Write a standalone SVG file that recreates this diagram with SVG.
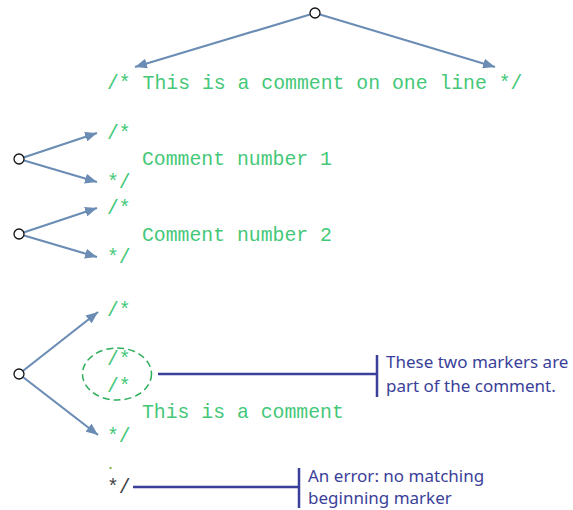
<svg xmlns="http://www.w3.org/2000/svg" width="573" height="510" viewBox="0 0 573 510">
<defs>
<marker id="ah" viewBox="0 0 12 10" refX="12" refY="5" markerWidth="12" markerHeight="10" markerUnits="userSpaceOnUse" orient="auto">
<path d="M0,0 L12,5 L0,10 z" fill="#6b8cb4"/>
</marker>
<style>
.code{font-family:"Liberation Mono","Courier New",monospace;font-size:19.8px;fill:#44c878}
.dark{fill:#444}
.note{font-family:"Noto Sans","Liberation Sans",sans-serif;font-size:17px;fill:#3a3f9a}
.arr{stroke:#6b8cb4;stroke-width:2.2;fill:none;marker-end:url(#ah)}
.call{stroke:#3a3f9a;stroke-width:2.5;fill:none}
.dot{fill:#fff;stroke:#111;stroke-width:1.3}
</style>
</defs>
<g id="connectors">
<line class="arr" x1="315" y1="13" x2="135" y2="67"/>
<line class="arr" x1="315" y1="13" x2="495" y2="67"/>
<line class="arr" x1="19" y1="159" x2="97" y2="133"/>
<line class="arr" x1="19" y1="159" x2="97" y2="182"/>
<line class="arr" x1="19" y1="234" x2="97" y2="208"/>
<line class="arr" x1="19" y1="234" x2="97" y2="257"/>
<line class="arr" x1="19" y1="374" x2="98" y2="312"/>
<line class="arr" x1="19" y1="374" x2="98" y2="435"/>
<line class="call" x1="158" y1="374" x2="377" y2="374"/>
<line class="call" x1="377" y1="355" x2="377" y2="397"/>
<line class="call" x1="133" y1="487" x2="299" y2="487"/>
<line class="call" x1="299" y1="468" x2="299" y2="508"/>
</g>
<g id="n1">
<circle class="dot" cx="315" cy="13" r="5"/>
<text class="code" x="107" y="89" xml:space="preserve">/* This is a comment on one line */</text>
</g>
<g id="n2">
<circle class="dot" cx="19" cy="159" r="5"/>
<text class="code" x="107" y="139">/*</text>
<text class="code" x="142" y="165">Comment number 1</text>
<text class="code" x="107" y="188">*/</text>
</g>
<g id="n3">
<circle class="dot" cx="19" cy="234" r="5"/>
<text class="code" x="107" y="214">/*</text>
<text class="code" x="142" y="241">Comment number 2</text>
<text class="code" x="107" y="263">*/</text>
</g>
<g id="n4">
<circle class="dot" cx="19" cy="374" r="5"/>
<text class="code" x="107" y="316">/*</text>
<ellipse cx="117" cy="374" rx="34.5" ry="26" fill="none" stroke="#2fae5a" stroke-width="1.5" stroke-dasharray="7,4"/>
<text class="code" x="107" y="365">/*</text>
<text class="code" x="107" y="392">/*</text>
<text class="code" x="142" y="418">This is a comment</text>
<text class="code" x="107" y="442">*/</text>
<circle cx="110.5" cy="468" r="1.2" fill="#8ab84a"/>
<text class="code dark" x="107" y="493">*/</text>
</g>
<g id="callout1">
<text class="note" x="386" y="368">These two markers are</text>
<text class="note" x="386" y="392">part of the comment.</text>
</g>
<g id="callout2">
<text class="note" x="308" y="482">An error: no matching</text>
<text class="note" x="308" y="504">beginning marker</text>
</g>
</svg>
